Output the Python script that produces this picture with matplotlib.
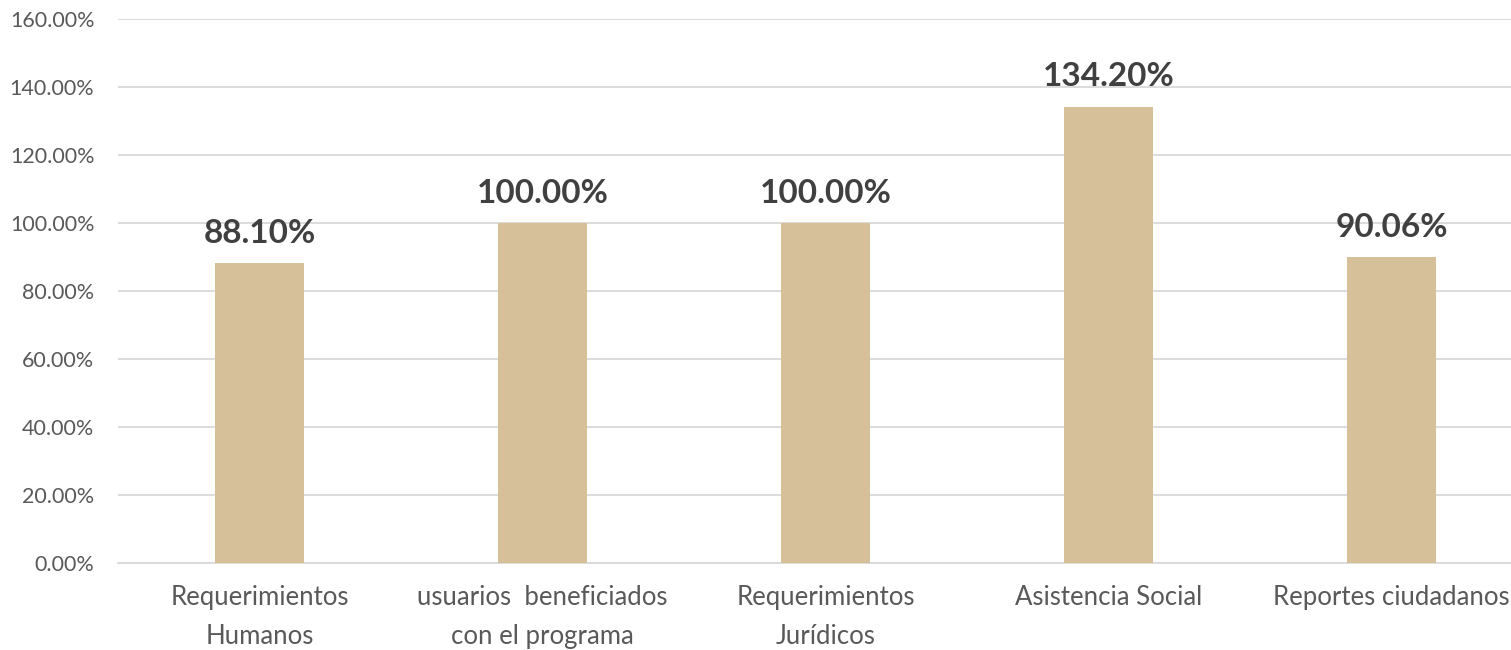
import matplotlib.pyplot as plt
from matplotlib.ticker import FuncFormatter

# Datos del gráfico
categorias = ['Requerimientos\nHumanos', 'usuarios  beneficiados\ncon el programa',
              'Requerimientos\nJurídicos', 'Asistencia Social', 'Reportes ciudadanos']
valores = [88.10, 100.00, 100.00, 134.20, 90.06]

plt.rcParams['font.family'] = ['Lato', 'DejaVu Sans']

fig = plt.figure(figsize=(15.11, 6.5), dpi=100)
# el eje se sale un poco por la derecha, como en el original
ax = fig.add_axes([118 / 1511, 87 / 650, 1415 / 1511, 544 / 650])

x = range(len(categorias))
ax.bar(x, valores, width=0.315, color='#D5C09A', zorder=3)

for i, v in zip(x, valores):
    ax.annotate(f'{v:.2f}%', (i, v), xytext=(0, 11), textcoords='offset points',
                ha='center', va='bottom', fontsize=24, fontweight='bold', color='#404040')

ax.set_xlim(-0.5, len(categorias) - 0.5)
ax.set_ylim(0, 160)
ax.set_yticks(range(0, 161, 20))
ax.yaxis.set_major_formatter(FuncFormatter(lambda v, p: f'{v:.2f}%'))
ax.set_xticks(list(x))
ax.set_xticklabels(categorias, fontsize=18.5, color='#595959', linespacing=1.7)
ax.tick_params(axis='y', labelsize=15.5, labelcolor='#595959', length=0, pad=17)
ax.tick_params(axis='x', length=0, pad=16)

ax.grid(axis='y', color='#D9D9D9', linewidth=1.3, zorder=0)
for s in ['top', 'right', 'left']:
    ax.spines[s].set_visible(False)
ax.spines['bottom'].set_color('#D9D9D9')
ax.spines['bottom'].set_linewidth(1.3)

fig.savefig('out.png', dpi=100)
